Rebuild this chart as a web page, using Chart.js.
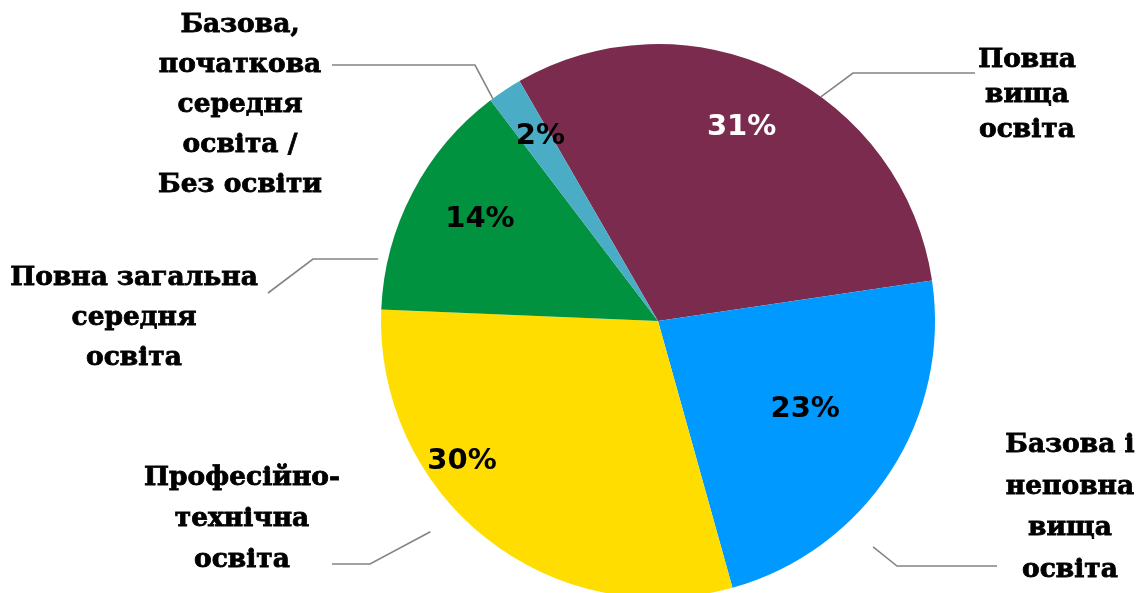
<!DOCTYPE html>
<html>
<head>
<meta charset="utf-8">
<script src="https://cdn.jsdelivr.net/npm/chart.js@4.4.1/dist/chart.umd.min.js"></script>
<style>
    html, body { margin: 0; padding: 0; background: #fff; overflow: hidden; }
    #wrap { position: relative; width: 1142px; height: 640px; }
</style>
</head>
<body>
<div id="wrap"><canvas id="eduChart" width="1142" height="640"></canvas></div>
<script>
// Categories (labels as shown in the picture, split into lines)
const categories = [
    'Повна вища освіта',
    'Базова і неповна вища освіта',
    'Професійно-технічна освіта',
    'Повна загальна середня освіта',
    'Базова, початкова середня освіта / Без освіти'
];
const labelLines = [
    ['Повна', 'вища', 'освіта'],
    ['Базова і', 'неповна', 'вища', 'освіта'],
    ['Професійно-', 'технічна', 'освіта'],
    ['Повна загальна', 'середня', 'освіта'],
    ['Базова,', 'початкова', 'середня', 'освіта /', 'Без освіти']
];
const shares = [31, 23, 30, 14, 2];
const sliceColors = ['#7B2C4E', '#0099FF', '#FFDD00', '#00923F', '#4BACC6'];

// Placement of the texts around the pie (relative to centre, in px / radius factors)
const pctPlace = [
    { da: -2.4, rf: 0.76 },
    { da: -2.0, rf: 0.62 },
    { da: 16.0, rf: 0.87 },
    { da: 2.1, rf: 0.74 },
    { da: 1.1, rf: 0.79 }
];
const outerPlace = [
    { x: 369, y: -261, step: 35, lead: { a: 36, rf: 1.0, pts: [[195, -248], [317, -248]] } },
    { x: 412, y: 124, step: 41.7, lead: { a: 136.4, rf: 1.126, pts: [[239, 245], [339, 245]] } },
    { x: -416, y: 157, step: 41, lead: { a: 227.2, rf: 1.12, pts: [[-288, 243], [-326, 243]] } },
    { x: -524, y: -43, step: 40, lead: { a: 282.5, rf: 1.035, pts: [[-345, -62], [-390, -28]] } },
    { x: -418, y: -296, step: 40, lead: { a: -36.6, rf: 1.0, pts: [[-183, -256], [-326, -256]] } }
];

const labelFont = 'bold 26.5px "DejaVu Serif"';
const pctFont = 'bold 29px "DejaVu Sans"';

const pieLabels = {
    id: 'pieLabels',
    afterDraw(chart) {
        const ctx = chart.ctx;
        const arcs = chart.getDatasetMeta(0).data;
        const total = shares.reduce((a, b) => a + b, 0);
        ctx.save();
        arcs.forEach((arc, i) => {
            const cx = arc.x, cy = arc.y, r = arc.outerRadius;
            const mid = (arc.startAngle + arc.endAngle) / 2;

            // percentage inside the slice
            const a = mid + pctPlace[i].da * Math.PI / 180;
            const px = cx + Math.cos(a) * r * pctPlace[i].rf;
            const py = cy + Math.sin(a) * r * pctPlace[i].rf;
            ctx.font = pctFont;
            ctx.fillStyle = (i === 0) ? '#fff' : '#000';
            ctx.textAlign = 'center';
            ctx.textBaseline = 'middle';
            ctx.fillText(Math.round(shares[i] / total * 100) + '%', px, py);

            // leader line
            const p = outerPlace[i];
            const la = (p.lead.a - 90) * Math.PI / 180;
            ctx.beginPath();
            ctx.moveTo(cx + Math.cos(la) * r * p.lead.rf, cy + Math.sin(la) * r * p.lead.rf);
            p.lead.pts.forEach(pt => ctx.lineTo(cx + pt[0], cy + pt[1]));
            ctx.strokeStyle = '#848484';
            ctx.lineWidth = 1.6;
            ctx.stroke();

            // category label (slight stroke to get the heavy look)
            ctx.font = labelFont;
            ctx.fillStyle = '#000';
            ctx.strokeStyle = '#000';
            ctx.lineWidth = 0.8;
            labelLines[i].forEach((line, k) => {
                const ty = cy + p.y + k * p.step;
                ctx.fillText(line, cx + p.x, ty);
                ctx.strokeText(line, cx + p.x, ty);
            });
        });
        ctx.restore();
    }
};

new Chart(document.getElementById('eduChart').getContext('2d'), {
    type: 'pie',
    data: {
        labels: categories,
        datasets: [{
            data: shares,
            backgroundColor: sliceColors,
            borderWidth: 0
        }]
    },
    options: {
        responsive: false,
        animation: false,
        rotation: -30,
        layout: { padding: { left: 381, right: 207, top: 44, bottom: 42 } },
        plugins: {
            legend: { display: false },
            tooltip: { enabled: false }
        }
    },
    plugins: [pieLabels]
});
</script>
</body>
</html>
